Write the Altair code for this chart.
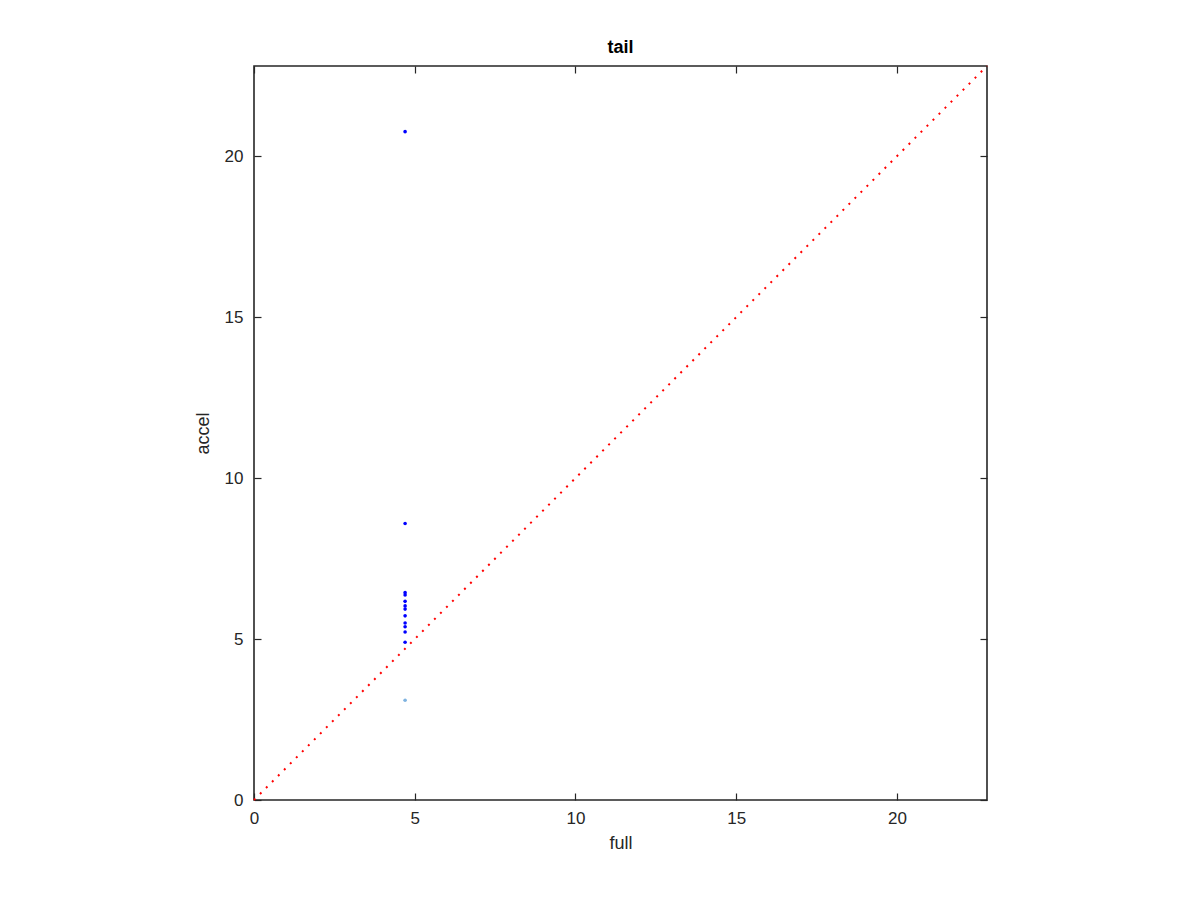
import altair as alt
import pandas as pd

# data
full_vals = [4.70] * 13
accel_vals = [20.76, 8.59, 6.44, 6.37, 6.17, 6.03, 5.93, 5.72, 5.50, 5.38, 5.22, 4.90, 3.10]
groups = ["main"] * 12 + ["low"]
group_names = ["main", "low"]
group_colors = ["#0000ff", "#7fb3e0"]
diag_vals = [0, 22.8]
axis_max = 22.8
tick_vals = [0, 5, 10, 15, 20]

pts = pd.DataFrame({"full": full_vals, "accel": accel_vals, "group": groups})
diag = pd.DataFrame({"full": diag_vals, "accel": diag_vals})

W, H = 733, 734
FONT = "Liberation Sans"
DARK = "#262626"

xs = alt.Scale(domain=[0, axis_max], nice=False, zero=False)
ys = alt.Scale(domain=[0, axis_max], nice=False, zero=False)

# layer 1: diagonal with labelled axes (no ticks)
line = alt.Chart(diag).mark_line(color="#ff0000", strokeWidth=2, strokeDash=[2, 6.5]).encode(
    x=alt.X("full:Q", scale=xs, title="full",
            axis=alt.Axis(orient="bottom", values=tick_vals, ticks=False, domain=False, grid=False,
                          labelFlush=False, labelPadding=10, titlePadding=8)),
    y=alt.Y("accel:Q", scale=ys, title="accel",
            axis=alt.Axis(orient="left", values=tick_vals, ticks=False, domain=False, grid=False,
                          labelFlush=False, labelPadding=11, titlePadding=12)),
)

# layer 2: points, inward ticks at bottom and left
points = alt.Chart(pts).mark_circle(size=13, opacity=1).encode(
    x=alt.X("full:Q", scale=xs,
            axis=alt.Axis(orient="top", offset=-H, values=tick_vals, labels=False, domain=False,
                          grid=False, title=None, tickSize=7)),
    y=alt.Y("accel:Q", scale=ys,
            axis=alt.Axis(orient="right", offset=-W, values=tick_vals, labels=False, domain=False,
                          grid=False, title=None, tickSize=7)),
    color=alt.Color("group:N", scale=alt.Scale(domain=group_names, range=group_colors), legend=None),
)

# layer 3: invisible, inward ticks at top and right
ghost = alt.Chart(diag).mark_point(opacity=0, strokeOpacity=0, fillOpacity=0).encode(
    x=alt.X("full:Q", scale=xs,
            axis=alt.Axis(orient="bottom", offset=-H, values=tick_vals, labels=False, domain=False,
                          grid=False, title=None, tickSize=7)),
    y=alt.Y("accel:Q", scale=ys,
            axis=alt.Axis(orient="left", offset=-W, values=tick_vals, labels=False, domain=False,
                          grid=False, title=None, tickSize=7)),
)

chart = alt.layer(line, points, ghost).resolve_axis(x="independent", y="independent").properties(
    width=W, height=H,
    background="white",
    title=alt.TitleParams("tail", font=FONT, fontSize=18, fontWeight="bold", color="#000000", offset=5),
    autosize=alt.AutoSizeParams(type="none"),
    padding={"left": 246, "top": 58, "right": 20, "bottom": 80},
).configure_view(
    stroke=DARK, strokeWidth=1.6
).configure_axis(
    labelFont=FONT, titleFont=FONT, labelFontSize=17, titleFontSize=18,
    labelColor=DARK, titleColor=DARK, titleFontWeight="normal",
    tickColor=DARK, tickWidth=1.2,
)

chart.save("out.html", embed_options={"renderer": "svg", "actions": False})
